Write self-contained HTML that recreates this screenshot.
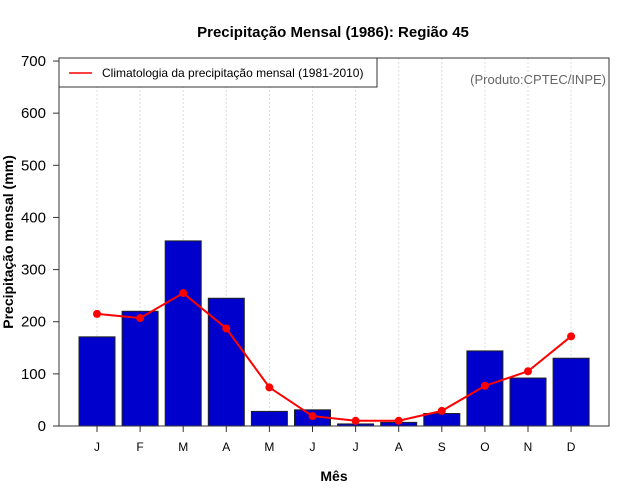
<!DOCTYPE html>
<html><head><meta charset="utf-8"><style>
body{margin:0;background:#fff;width:640px;height:500px;overflow:hidden}
svg{display:block;font-family:"Liberation Sans",sans-serif}
</style></head><body>
<svg id="c" width="640" height="500"></svg>
<script>
const months=["J","F","M","A","M","J","J","A","S","O","N","D"];
const observed=[171,220,355,245,28,31,4,7,24,144,92,130];
const climatology=[215,207,255,187,74,19,10,10,29,77,105,172];
const yTicks=[0,100,200,300,400,500,600,700];
const NS="http://www.w3.org/2000/svg";
const svg=document.getElementById('c');
const L=59,R=609,T=58,B=426;
const yv=v=>426-v*0.5214;
const xc=i=>97+i*43.1;
function mk(tag,at,name,parent){const e=document.createElementNS(NS,tag);for(const k in at)e.setAttribute(k,at[k]);


(parent||svg).appendChild(e);return e;}
function tx(x,y,s,at,name){const e=mk('text',Object.assign({x:x,y:y},at),name);e.textContent=s;return e;}
mk('rect',{x:0,y:0,width:640,height:500,fill:'#fff'},'background');
months.forEach((m,i)=>{mk('line',{x1:xc(i),x2:xc(i),y1:T,y2:B,stroke:'#ddd','stroke-dasharray':'2,2'},'grid-line');});
months.forEach((m,i)=>{const y=yv(observed[i]);mk('rect',{x:xc(i)-18,y:y,width:36,height:B-y,fill:'#0000cc',stroke:'#222','stroke-width':1},'bar-'+i);});
mk('polyline',{points:climatology.map((v,i)=>xc(i)+','+yv(v)).join(' '),fill:'none',stroke:'#f00','stroke-width':2},'climatology-line');
climatology.forEach((v,i)=>{mk('circle',{cx:xc(i),cy:yv(v),r:4,fill:'#f00'},'climatology-point');});
mk('rect',{x:L,y:T,width:R-L,height:B-T,fill:'none',stroke:'#333','stroke-width':1},'plot-frame');
yTicks.forEach(v=>{mk('line',{x1:L-6,x2:L,y1:yv(v),y2:yv(v),stroke:'#333'},'y-tick');tx(L-13,yv(v)+5,v,{'font-size':15,'text-anchor':'end'},'y-tick-label');});
months.forEach((m,i)=>{mk('line',{x1:xc(i),x2:xc(i),y1:B,y2:B+6,stroke:'#333'},'x-tick');tx(xc(i),B+25,m,{'font-size':12,'text-anchor':'middle'},'x-tick-label');});
tx(333,37,'Precipitação Mensal (1986): Região 45',{'font-size':15,'font-weight':'bold','text-anchor':'middle'},'chart-title');
tx(334,481,'Mês',{'font-size':14,'font-weight':'bold','text-anchor':'middle'},'x-axis-title');
tx(13,242,'Precipitação mensal (mm)',{'font-size':14,'font-weight':'bold','text-anchor':'middle',transform:'rotate(-90 13 242)'},'y-axis-title');
mk('rect',{x:L,y:T,width:318,height:29,fill:'#fff',stroke:'#333'},'legend-box');
mk('line',{x1:69,x2:92,y1:73,y2:73,stroke:'#f00','stroke-width':1.5},'legend-line');
tx(102,77,'Climatologia da precipitação mensal (1981-2010)',{'font-size':12},'legend-entry');
tx(606,84,'(Produto:CPTEC/INPE)',{'font-size':13,'text-anchor':'end',fill:'#666'},'source-note');
</script>
</body></html>
